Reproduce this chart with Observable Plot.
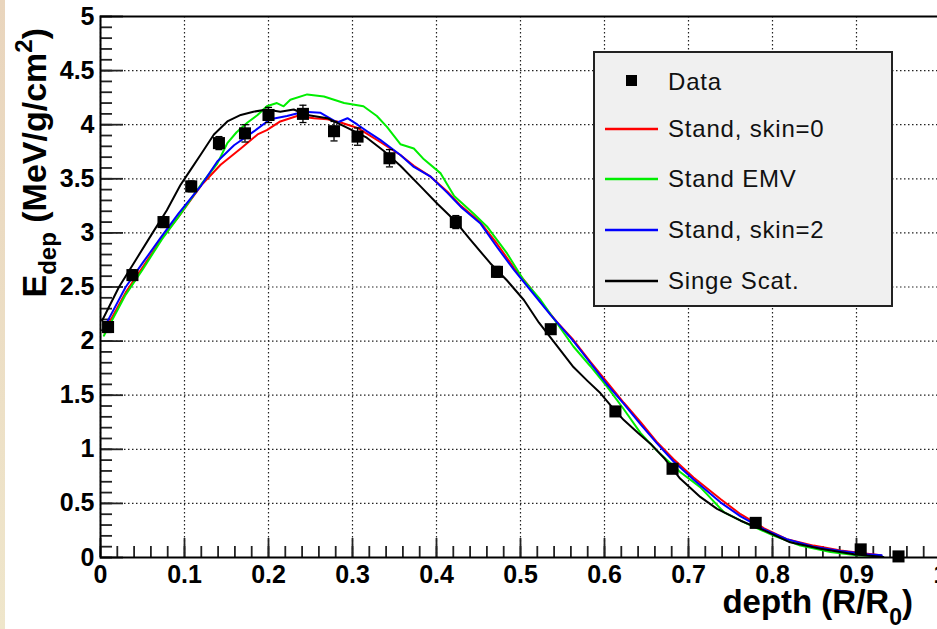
<!DOCTYPE html>
<html>
<head>
<meta charset="utf-8">
<script src="https://cdn.jsdelivr.net/npm/d3@7"></script>
<script src="https://cdn.jsdelivr.net/npm/@observablehq/plot@0.6"></script>
<style>
html, body { margin: 0; padding: 0; background: #fff; overflow: hidden; }
#wrap { position: relative; width: 937px; height: 629px; overflow: hidden; background: #fff; }
#strip { position: absolute; left: 0; top: 0; width: 5px; height: 629px; background: linear-gradient(#e9d5bd, #efe6cb); }
#legend { position: absolute; left: 593px; top: 51px; width: 296px; height: 252px; background: #f0f0f0; border: 2px solid #222; font-family: "Liberation Sans", Arial, sans-serif; font-size: 24px; letter-spacing: 0.8px; color: #111; }
#legend .row { position: absolute; left: 0; height: 30px; width: 100%; }
#legend .row svg { position: absolute; left: 10px; top: 0; }
#legend .row span { position: absolute; left: 73px; top: 1px; line-height: 28px; white-space: nowrap; }
</style>
</head>
<body>
<div id="wrap"><div id="strip"></div></div>
<script>
// ---- data ----
const dataX   = [0.009, 0.038, 0.075, 0.108, 0.141, 0.172, 0.200, 0.241, 0.278, 0.306, 0.344, 0.423, 0.472, 0.536, 0.613, 0.681, 0.780, 0.905, 0.950];
const dataY   = [2.13, 2.61, 3.10, 3.43, 3.83, 3.92, 4.09, 4.10, 3.94, 3.89, 3.69, 3.10, 2.64, 2.11, 1.35, 0.82, 0.32, 0.075, 0.01];
const dataErr = [0.05, 0.05, 0.05, 0.05, 0.06, 0.08, 0.07, 0.08, 0.09, 0.08, 0.08, 0.06, 0.05, 0.04, 0.04, 0.03, 0.02, 0.02, 0.01];

const redX = [0.004,0.03,0.05,0.073,0.093,0.121,0.143,0.167,0.187,0.198,0.214,0.234,0.254,0.27,0.286,0.306,0.333,0.357,0.373,0.393,0.413,0.429,0.452,0.472,0.492,0.512,0.524,0.543,0.563,0.583,0.603,0.623,0.643,0.662,0.682,0.706,0.738,0.762,0.79,0.817,0.849,0.881,0.913,0.929];
const redY = [2.08,2.45,2.68,2.95,3.15,3.45,3.63,3.78,3.91,3.95,4.03,4.08,4.06,4.05,4.02,3.97,3.84,3.72,3.62,3.52,3.38,3.25,3.10,2.90,2.68,2.49,2.36,2.18,2.01,1.81,1.62,1.43,1.25,1.07,0.91,0.74,0.54,0.40,0.27,0.17,0.11,0.065,0.034,0.02];

const greenX = [0.004,0.03,0.05,0.073,0.093,0.12,0.139,0.151,0.162,0.175,0.187,0.198,0.21,0.218,0.226,0.246,0.266,0.29,0.313,0.329,0.341,0.357,0.373,0.385,0.405,0.421,0.444,0.46,0.484,0.504,0.524,0.543,0.563,0.583,0.603,0.623,0.643,0.662,0.69,0.714,0.742,0.77,0.802,0.833,0.869,0.9,0.93];
const greenY = [2.05,2.43,2.66,2.94,3.15,3.45,3.64,3.83,3.93,4.02,4.09,4.17,4.20,4.17,4.23,4.28,4.26,4.20,4.17,4.08,3.98,3.82,3.78,3.68,3.55,3.34,3.18,3.06,2.81,2.56,2.38,2.17,1.95,1.77,1.58,1.37,1.15,0.99,0.79,0.65,0.42,0.31,0.20,0.11,0.05,0.02,0.01];

const blueX = [0.004,0.03,0.05,0.073,0.093,0.12,0.139,0.159,0.183,0.202,0.222,0.242,0.262,0.282,0.294,0.306,0.317,0.333,0.357,0.373,0.393,0.413,0.429,0.452,0.472,0.492,0.512,0.536,0.563,0.583,0.603,0.623,0.643,0.662,0.682,0.706,0.738,0.762,0.79,0.817,0.849,0.881,0.913,0.93];
const blueY = [2.12,2.50,2.72,2.97,3.18,3.44,3.66,3.81,3.94,4.05,4.08,4.12,4.11,4.02,4.06,4.00,3.94,3.86,3.72,3.61,3.52,3.37,3.24,3.09,2.87,2.66,2.47,2.24,2.00,1.80,1.60,1.42,1.23,1.06,0.89,0.72,0.51,0.38,0.26,0.17,0.10,0.06,0.03,0.02];

const blackX = [0.002,0.022,0.042,0.062,0.079,0.095,0.107,0.119,0.135,0.151,0.167,0.182,0.198,0.214,0.23,0.246,0.27,0.294,0.317,0.337,0.357,0.381,0.401,0.421,0.44,0.464,0.484,0.504,0.522,0.543,0.563,0.58,0.595,0.61,0.623,0.64,0.655,0.672,0.69,0.714,0.734,0.762,0.79,0.821,0.857,0.897,0.932];
const blackY = [2.19,2.50,2.75,3.00,3.21,3.44,3.58,3.72,3.91,4.03,4.09,4.12,4.14,4.12,4.14,4.09,4.06,3.97,3.88,3.76,3.62,3.43,3.27,3.12,2.94,2.72,2.56,2.38,2.17,1.96,1.76,1.63,1.52,1.38,1.27,1.15,1.05,0.91,0.73,0.56,0.45,0.34,0.25,0.14,0.08,0.03,0.005];

const xMajor = [0, 0.1, 0.2, 0.3, 0.4, 0.5, 0.6, 0.7, 0.8, 0.9, 1];
const xMinor = d3.range(0, 51).map(i => +(i * 0.02).toFixed(2));
const yMajor = [0, 0.5, 1, 1.5, 2, 2.5, 3, 3.5, 4, 4.5, 5];
const yMinor = d3.range(0, 51).map(i => +(i * 0.1).toFixed(1));

const seriesNames  = ["Stand, skin=0", "Stand EMV", "Stand, skin=2", "Singe Scat."];
const seriesColors = ["#ff0000", "#00ee00", "#0000ff", "#000000"];
const legendLabels = ["Data", ...seriesNames];

// ---- build tables ----
const zip = (xs, ys) => xs.map((x, i) => ({x, y: ys[i]}));
const curves = [zip(redX, redY), zip(greenX, greenY), zip(blueX, blueY), zip(blackX, blackY)];
const points = dataX.map((x, i) => ({x, y: dataY[i], e: dataErr[i]}));

// ---- layout ----
const W = 937, H = 629;
const mt = 16, mb = 72, ml = 100, mr = -3;
const plotW = W - ml - mr, plotH = H - mt - mb;

const capSymbol = { draw(ctx, size) { const w = Math.sqrt(size) / 2; ctx.moveTo(-w, 0); ctx.lineTo(w, 0); } };
const tickStyle = {stroke: "#222", strokeWidth: 1.8};
const fmt = d => String(d);

const chart = Plot.plot({
  width: W, height: H,
  marginTop: mt, marginBottom: mb, marginLeft: ml, marginRight: mr,
  x: {domain: [0, 1]},
  y: {domain: [0, 5]},
  style: {background: "transparent", fontFamily: "'Liberation Sans', Arial, sans-serif", color: "#000"},
  marks: [
    Plot.gridX(xMajor, {stroke: "#222", strokeOpacity: 1, strokeWidth: 1.2, strokeDasharray: "1.5,2.5"}),
    Plot.gridY(yMajor, {stroke: "#222", strokeOpacity: 1, strokeWidth: 1.2, strokeDasharray: "1.5,2.5"}),
    Plot.tickX(xMinor, {x: d => d, insetTop: plotH - 11, ...tickStyle}),
    Plot.tickX(xMajor, {x: d => d, insetTop: plotH - 19, ...tickStyle}),
    Plot.tickY(yMinor, {y: d => d, insetRight: plotW - 12, ...tickStyle}),
    Plot.tickY(yMajor, {y: d => d, insetRight: plotW - 23, ...tickStyle}),
    Plot.axisX(xMajor, {tickSize: 0, tickPadding: 8, tickFormat: fmt, fontSize: 25, fontWeight: "bold", label: null, fill: "#000"}),
    Plot.axisY(yMajor, {tickSize: 0, tickPadding: 6, tickFormat: fmt, fontSize: 25, fontWeight: "bold", label: null, fill: "#000"}),
    ...curves.map((c, i) => Plot.line(c, {x: "x", y: "y", stroke: seriesColors[i], strokeWidth: 2})),
    Plot.ruleX(points, {x: "x", y1: d => d.y - d.e, y2: d => d.y + d.e, stroke: "#000", strokeWidth: 1.3}),
    Plot.dot(points, {x: "x", y: d => d.y - d.e, symbol: capSymbol, r: 4, stroke: "#000", fill: "none", strokeWidth: 1.3}),
    Plot.dot(points, {x: "x", y: d => d.y + d.e, symbol: capSymbol, r: 4, stroke: "#000", fill: "none", strokeWidth: 1.3}),
    Plot.dot(points, {x: "x", y: "y", symbol: "square", r: 6.8, fill: "#000", stroke: "none"}),
    Plot.frame({stroke: "#000", strokeWidth: 2})
  ]
});
chart.style.position = "absolute";
chart.style.left = "0px";
chart.style.top = "0px";
document.getElementById("wrap").appendChild(chart);

// ---- axis titles ----
const svg = d3.select(chart);
const xt = svg.append("text")
  .attr("x", 913).attr("y", 613)
  .attr("text-anchor", "end")
  .attr("font-family", "'Liberation Sans', Arial, sans-serif")
  .attr("font-weight", "bold").attr("font-size", 33).attr("fill", "#000");
xt.append("tspan").text("depth (R/R");
xt.append("tspan").attr("dy", 12).attr("font-size", 23).text("0");
xt.append("tspan").attr("dy", -12).text(")");

const yt = svg.append("text")
  .attr("transform", "translate(46,28) rotate(-90)")
  .attr("text-anchor", "end")
  .attr("font-family", "'Liberation Sans', Arial, sans-serif")
  .attr("font-weight", "bold").attr("font-size", 34).attr("fill", "#000");
yt.append("tspan").text("E");
yt.append("tspan").attr("dy", 10).attr("font-size", 24).text("dep");
yt.append("tspan").attr("dy", -10).text(" (MeV/g/cm");
yt.append("tspan").attr("dy", -14).attr("font-size", 24).text("2");
yt.append("tspan").attr("dy", 14).text(")");

// ---- legend ----
const legend = document.createElement("div");
legend.id = "legend";
const rowTops = [14, 61, 111, 162, 213];
legendLabels.forEach((lab, i) => {
  const row = document.createElement("div");
  row.className = "row";
  row.style.top = rowTops[i] + "px";
  let sw;
  if (i === 0) {
    sw = `<svg width="56" height="30"><rect x="21" y="8" width="11" height="11" fill="#000"/></svg>`;
  } else {
    sw = `<svg width="56" height="30"><line x1="0" x2="53" y1="15" y2="15" stroke="${seriesColors[i-1]}" stroke-width="2.5"/></svg>`;
  }
  row.innerHTML = sw + `<span>${lab}</span>`;
  legend.appendChild(row);
});
document.getElementById("wrap").appendChild(legend);
</script>
</body>
</html>
